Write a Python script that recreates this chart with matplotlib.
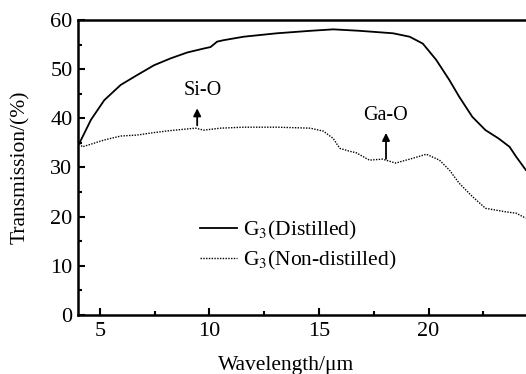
import matplotlib.pyplot as plt
from matplotlib.ticker import MultipleLocator

plt.rcParams['font.family'] = ['Liberation Serif', 'DejaVu Serif']
plt.rcParams['mathtext.fontset'] = 'stix'

# distilled glass (solid line)
wl_dist = [4.06, 4.59, 5.2, 5.95, 6.7, 7.47, 8.23, 8.99, 9.74, 10.05, 10.35, 10.65,
           11.56, 13.08, 14.6, 15.65, 16.86, 18.38, 19.14, 19.74, 20.35, 20.95,
           21.4, 22.0, 22.6, 23.2, 23.7, 24.0, 24.44]
tr_dist = [34.9, 39.7, 43.7, 46.8, 48.8, 50.8, 52.2, 53.4, 54.2, 54.5, 55.6, 55.9,
           56.6, 57.3, 57.8, 58.1, 57.8, 57.3, 56.6, 55.2, 51.9, 47.8,
           44.4, 40.3, 37.6, 35.9, 34.2, 32.2, 29.5]

# non-distilled glass (dotted line)
wl_nd = [4.06, 4.2, 5.2, 5.95, 6.7, 7.47, 8.2, 9.36, 9.74, 10.5, 11.56, 13.08,
         14.6, 15.2, 15.65, 15.95, 16.4, 16.7, 17.3, 17.9, 18.5, 19.3, 19.9,
         20.5, 20.95, 21.4, 22.0, 22.6, 23.5, 24.0, 24.44]
tr_nd = [34.9, 34.2, 35.6, 36.4, 36.6, 37.1, 37.5, 38.0, 37.6, 38.0, 38.2, 38.2,
         38.0, 37.4, 35.9, 33.9, 33.3, 33.0, 31.5, 31.7, 30.9, 31.9, 32.7,
         31.5, 29.5, 26.8, 24.1, 21.7, 21.0, 20.7, 19.7]

fig = plt.figure(figsize=(5.26, 3.74), dpi=100)
ax = fig.add_axes([0.1483, 0.1578, 0.8517, 0.7887])

ax.plot(wl_dist, tr_dist, color='black', lw=1.3, label='G$_3$(Distilled)')
ax.plot(wl_nd, tr_nd, color='black', lw=1.0, linestyle=(0, (1, 1)),
        label='G$_3$(Non-distilled)')

ax.annotate('', xy=(9.44, 42.6), xytext=(9.44, 38.0),
            arrowprops=dict(arrowstyle='-|>', color='black', lw=1.3, mutation_scale=11))
ax.text(9.68, 45.6, 'Si-O', ha='center', va='center', fontsize=14.5)
ax.annotate('', xy=(18.06, 37.6), xytext=(18.06, 31.2),
            arrowprops=dict(arrowstyle='-|>', color='black', lw=1.3, mutation_scale=11))
ax.text(18.05, 40.5, 'Ga-O', ha='center', va='center', fontsize=14.5)

ax.set_xlim(4, 24.45)
ax.set_ylim(0, 60)
ax.xaxis.set_major_locator(MultipleLocator(5))
ax.xaxis.set_minor_locator(MultipleLocator(2.5))
ax.yaxis.set_major_locator(MultipleLocator(10))
ax.yaxis.set_minor_locator(MultipleLocator(5))
ax.tick_params(which='both', direction='in', labelsize=16, width=1.5)
ax.tick_params(which='major', length=5)
ax.tick_params(which='minor', length=3)
ax.tick_params(axis='x', pad=5)
ax.tick_params(axis='y', pad=4)
ax.spines['right'].set_visible(False)
for s in ['left', 'bottom', 'top']:
    ax.spines[s].set_linewidth(1.8)

ax.set_xlabel('Wavelength/μm', fontsize=15.5)
ax.set_ylabel('Transmission/(%)', fontsize=15.5)
ax.xaxis.set_label_coords(0.465, -0.14)
ax.yaxis.set_label_coords(-0.108, 0.5)

ax.legend(loc='center left', bbox_to_anchor=(0.23, 0.235), frameon=False,
          fontsize=15.5, handlelength=1.7, handletextpad=0.3, labelspacing=0.3)

fig.savefig('out.png', dpi=100)
